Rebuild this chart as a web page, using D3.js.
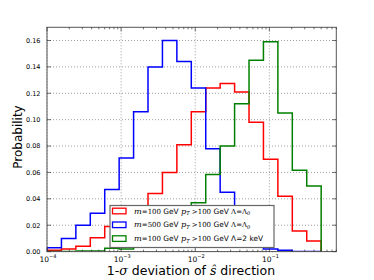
<!DOCTYPE html>
<html><head><meta charset="utf-8">
<script src="https://cdn.jsdelivr.net/npm/d3@7"></script>
<style>
body{margin:0;background:#fff;}
svg{display:block;font-family:"DejaVu Sans",sans-serif;}
</style></head>
<body><svg id="c" width="374" height="280"></svg>
<script>
// log10 of the bin edges (19 log-spaced bins from 1e-4 to 0.5)
const binLogEdges = [-4, -3.8053, -3.6106, -3.4160, -3.2213, -3.0266, -2.8319, -2.6372, -2.4425, -2.2479,
  -2.0532, -1.8585, -1.6638, -1.4691, -1.2744, -1.0798, -0.8851, -0.6904, -0.4957, -0.3010];
const seriesNames = ["m100_L0", "m500_L0", "m100_2keV"];
const redVals = [0.001, 0.002, 0.004, 0.0105, 0.019, 0.026, 0.034, 0.044, 0.060, 0.081, 0.106, 0.124, 0.1275, 0.121, 0.098, 0.070, 0.042, 0.0156, 0.008];
const blueVals = [0.003, 0.010, 0.020, 0.029, 0.047, 0.071, 0.106, 0.140, 0.160, 0.144, 0.124, 0.078, 0.045, 0.020, 0.006, 0.002, 0.001, 0, 0];
const greenVals = [0, 0, 0.0005, 0.0005, 0.0025, 0.002, 0.005, 0.010, 0.018, 0.027, 0.037, 0.0585, 0.080, 0.112, 0.145, 0.159, 0.105, 0.0616, 0.0497];
const yTicks = [0.00, 0.02, 0.04, 0.06, 0.08, 0.10, 0.12, 0.14, 0.16];
const xTickExps = [-4, -3, -2, -1];

const svg = d3.select("#c");
const L = 47, R = 336.3, T = 27.3, B = 251.6;
const x = d3.scaleLog().domain([1e-4, 0.8]).range([L, R]);
const y = d3.scaleLinear().domain([0, 0.17]).range([B, T]);

// grid
const g = svg.append("g");
g.selectAll(".gx").data(xTickExps).enter().append("line")
  .attr("x1", d => x(Math.pow(10, d))).attr("x2", d => x(Math.pow(10, d)))
  .attr("y1", T).attr("y2", B).attr("stroke", "#888").attr("stroke-width", 0.8).attr("stroke-dasharray", "1,2");
g.selectAll(".gy").data(yTicks).enter().append("line")
  .attr("x1", L).attr("x2", R).attr("y1", d => y(d)).attr("y2", d => y(d))
  .attr("stroke", "#888").attr("stroke-width", 0.8).attr("stroke-dasharray", "1,2");

// step histograms
function stepPath(vals) {
  const e = binLogEdges.map(v => Math.pow(10, v));
  let p = `M${x(e[0])},${y(0)}`;
  vals.forEach((v, i) => {
    p += `L${x(e[i])},${y(v)}L${x(e[i + 1])},${y(v)}`;
  });
  p += `L${x(e[vals.length])},${y(0)}`;
  return p;
}
const series = [
  {vals: redVals, color: "#ff0000"},
  {vals: blueVals, color: "#0000ff"},
  {vals: greenVals, color: "#008000"}
];
const clip = svg.append("clipPath").attr("id", "clp").append("rect")
  .attr("x", L).attr("y", T).attr("width", R - L).attr("height", B - T);
svg.append("g").attr("clip-path", "url(#clp)").selectAll("path").data(series).enter().append("path")
  .attr("d", d => stepPath(d.vals)).attr("fill", "none").attr("stroke", d => d.color)
  .attr("stroke-width", 1.5).attr("stroke-linejoin", "miter");

// frame
svg.append("rect").attr("x", L).attr("y", T).attr("width", R - L).attr("height", B - T)
  .attr("fill", "none").attr("stroke", "#555").attr("stroke-width", 1);

// ticks
const tk = svg.append("g").attr("stroke", "#333").attr("stroke-width", 0.7);
yTicks.forEach(v => {
  tk.append("line").attr("x1", L).attr("x2", L + 4).attr("y1", y(v)).attr("y2", y(v));
  tk.append("line").attr("x1", R).attr("x2", R - 4).attr("y1", y(v)).attr("y2", y(v));
});
xTickExps.forEach(e => {
  const xv = x(Math.pow(10, e));
  tk.append("line").attr("x1", xv).attr("x2", xv).attr("y1", B).attr("y2", B - 4);
  tk.append("line").attr("x1", xv).attr("x2", xv).attr("y1", T).attr("y2", T + 4);
  for (let k = 2; k <= 9; k++) {
    const xm = k * Math.pow(10, e);
    if (xm > 0.8) break;
    const xp = x(xm);
    tk.append("line").attr("x1", xp).attr("x2", xp).attr("y1", B).attr("y2", B - 2);
    tk.append("line").attr("x1", xp).attr("x2", xp).attr("y1", T).attr("y2", T + 2);
  }
});

// tick labels
svg.append("g").selectAll("text").data(yTicks).enter().append("text")
  .attr("x", 40.5).attr("y", d => y(d) + 2.3).attr("text-anchor", "end")
  .attr("font-size", 6.5).attr("fill", "#000").text(d => d.toFixed(2));
const xl = svg.append("g").selectAll("text").data(xTickExps).enter().append("text")
  .attr("x", d => x(Math.pow(10, d)) + 1).attr("y", 261.5).attr("text-anchor", "middle")
  .attr("font-size", 7.5).attr("fill", "#000");
xl.append("tspan").text("10");
xl.append("tspan").attr("font-size", 5).attr("dy", -3.2).text(d => "\u2212" + Math.abs(d));

// axis labels
svg.append("text").attr("transform", "translate(22,137) rotate(-90)").attr("text-anchor", "middle")
  .attr("font-size", 12).text("Probability");
const xt = svg.append("text").attr("x", 191).attr("y", 275).attr("text-anchor", "middle").attr("font-size", 12.5);
xt.append("tspan").text("1-");
xt.append("tspan").attr("font-family", "DejaVu Serif").attr("font-style", "italic").text("σ");
xt.append("tspan").text(" deviation of ");
xt.append("tspan").attr("font-family", "DejaVu Serif").attr("font-style", "italic").text("ŝ");
xt.append("tspan").text(" direction");

// legend
const legendLabels = [
  [["m", "mi"], ["=100", "m"], [" GeV ", "t"], ["p", "mi"], ["T", "sub"], [" >100", "m"], [" GeV ", "t"], ["Λ=Λ", "m"], ["0", "sub"]],
  [["m", "mi"], ["=500", "m"], [" GeV ", "t"], ["p", "mi"], ["T", "sub"], [" >100", "m"], [" GeV ", "t"], ["Λ=Λ", "m"], ["0", "sub"]],
  [["m", "mi"], ["=100", "m"], [" GeV ", "t"], ["p", "mi"], ["T", "sub"], [" >100", "m"], [" GeV ", "t"], ["Λ=2 keV", "t"]]
];
const lg = svg.append("g");
lg.append("rect").attr("x", 110).attr("y", 205.5).attr("width", 164).attr("height", 42)
  .attr("fill", "#fff").attr("stroke", "#666").attr("stroke-width", 1.2);
series.forEach((s, i) => {
  const cy = 211 + i * 13.8;
  lg.append("rect").attr("x", 112.5).attr("y", cy - 2.8).attr("width", 13.5).attr("height", 5.6)
    .attr("fill", "#fff").attr("stroke", s.color).attr("stroke-width", 1.3);
  const t = lg.append("text").attr("x", 134).attr("y", cy + 2.6).attr("font-size", 7.4);
  legendLabels[i].forEach(([str, kind]) => {
    const sp = t.append("tspan").text(str);
    if (kind === "mi") sp.attr("font-family", "DejaVu Serif").attr("font-style", "italic").attr("font-size", 8.2);
    if (kind === "m") sp.attr("font-family", "DejaVu Serif").attr("font-size", 7);
    if (kind === "sub") { sp.attr("font-family", "DejaVu Serif").attr("font-style", "italic").attr("font-size", 5).attr("dy", 1.5); }
    if (kind !== "sub" && t.attr("data-sub") === "1") sp.attr("dy", -1.5);
    t.attr("data-sub", kind === "sub" ? "1" : "0");
  });
});
</script></body></html>
